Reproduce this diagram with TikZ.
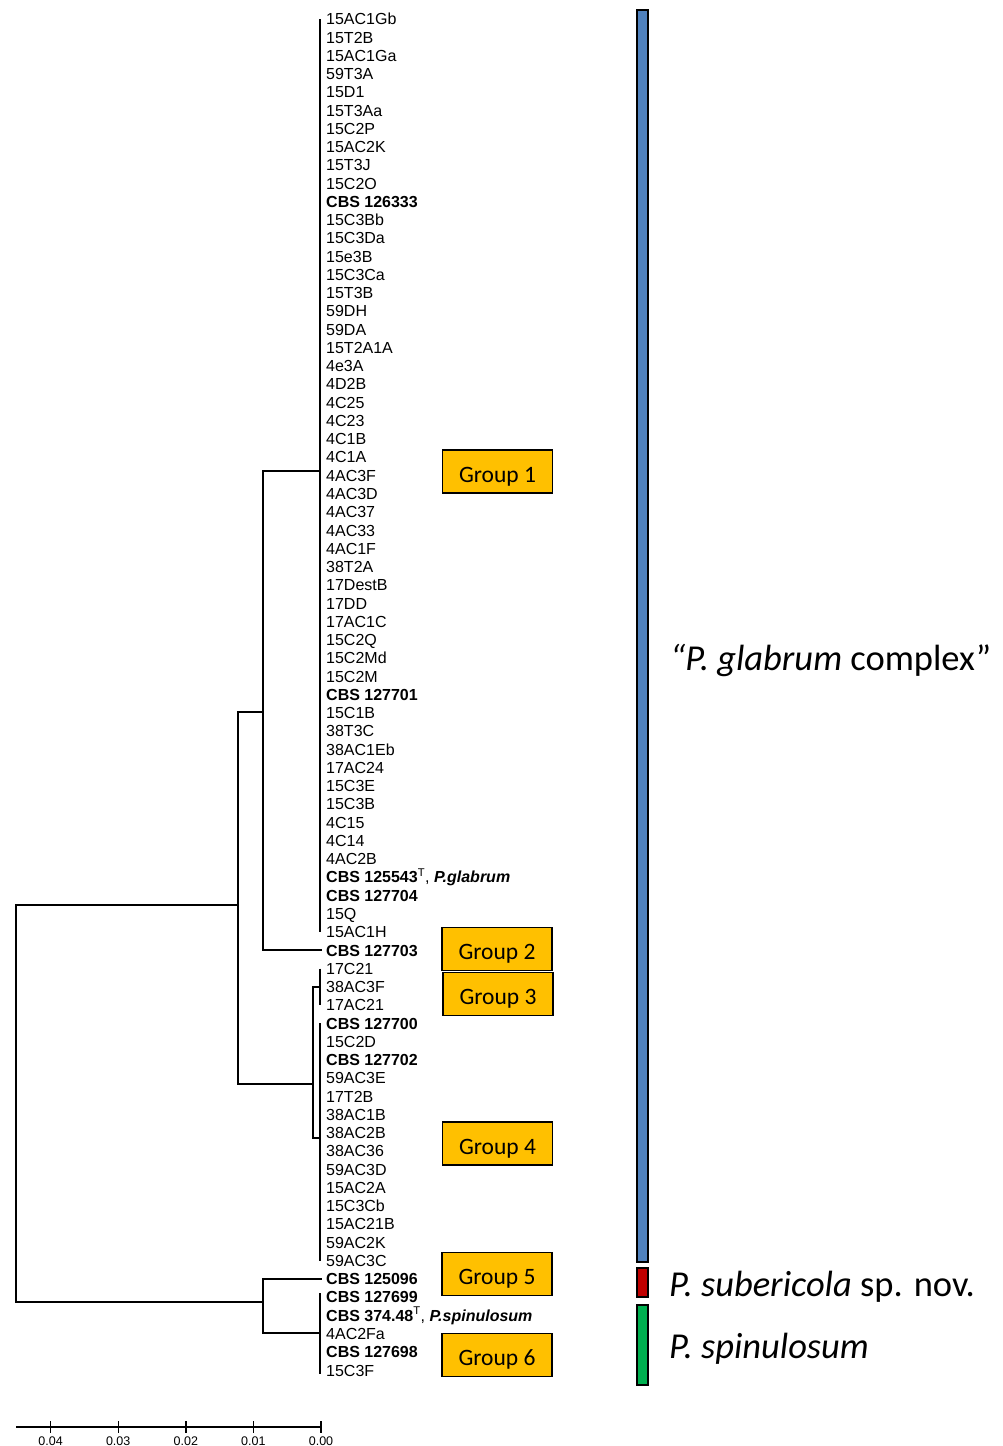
\documentclass[tikz,border=0pt]{standalone}
\usepackage{fontspec}
\setmainfont{Liberation Sans}
\newfontfamily\calfont{Carlito}
\usepackage{tikz}
\usetikzlibrary{calc}
\definecolor{barblue}  {RGB}{79,  129, 189}
\definecolor{barred}   {RGB}{192, 0,   0}
\definecolor{bargreen} {RGB}{0,   176, 80}
\definecolor{grpyellow}{RGB}{255, 192, 0}
\newcommand{\strain}[1]{\textbf{#1}}
\newcommand{\typeT}{\textsuperscript{T}}

\begin{document}
\begin{tikzpicture}[x=1pt,y=-1pt,
	branch/.style={line width=1.6pt},
	tip/.style={anchor=west,inner xsep=4pt,inner ysep=0pt,text height=11.5pt,text depth=0pt,font=\fontsize{16}{18}\selectfont},
	grp/.style={draw,line width=1.6pt,fill=grpyellow,minimum width=110pt,minimum height=43pt,inner sep=0pt,text height=21pt,text depth=0pt,font=\calfont\fontsize{23.5}{27}\selectfont},
	bar/.style={draw,line width=1.8pt},
	clade/.style={anchor=west,inner sep=0pt,text height=23pt,text depth=0pt,font=\calfont\fontsize{36.5}{42}\selectfont}]
	\useasboundingbox (0,0) rectangle (1003,1446);

	% tips
	\foreach \lab [count=\i] in {15AC1Gb, 15T2B, 15AC1Ga, 59T3A, 15D1, 15T3Aa, 15C2P, 15AC2K, 15T3J, 15C2O,
		\strain{CBS 126333}, 15C3Bb, 15C3Da, 15e3B, 15C3Ca, 15T3B, 59DH, 59DA, 15T2A1A, 4e3A,
		4D2B, 4C25, 4C23, 4C1B, 4C1A, 4AC3F, 4AC3D, 4AC37, 4AC33, 4AC1F,
		38T2A, 17DestB, 17DD, 17AC1C, 15C2Q, 15C2Md, 15C2M, \strain{CBS 127701}, 15C1B, 38T3C,
		38AC1Eb, 17AC24, 15C3E, 15C3B, 4C15, 4C14, 4AC2B, {\strain{CBS 125543}\typeT, \strain{\itshape P.glabrum}}, \strain{CBS 127704}, 15Q,
		15AC1H, \strain{CBS 127703}, 17C21, 38AC3F, 17AC21, \strain{CBS 127700}, 15C2D, \strain{CBS 127702}, 59AC3E, 17T2B,
		38AC1B, 38AC2B, 38AC36, 59AC3D, 15AC2A, 15C3Cb, 15AC21B, 59AC2K, 59AC3C, \strain{CBS 125096},
		\strain{CBS 127699}, {\strain{CBS 374.48}\typeT, \strain{\itshape P.spinulosum}}, 4AC2Fa, \strain{CBS 127698}, 15C3F}
		\node[tip] (t\i) at (322,{19+(\i-1)*18.26}) {\lab};

	% inner nodes
	\coordinate (g1) at (320,471);
	\coordinate (g3) at (320,987);
	\coordinate (g4) at (320,1138);
	\coordinate (g6) at (320,1333);
	\coordinate (nB) at (263,712);
	\coordinate (nC) at (313,1084);
	\coordinate (nD) at (238,905);
	\coordinate (nE) at (263,1302);
	\coordinate (root) at (16,1100);

	% branches
	\draw[branch] (g1 |- t1) -- (g1 |- t51);
	\draw[branch] (g3 |- t53) -- (g3 |- t55);
	\draw[branch] (g4 |- t56) -- (g4 |- t69);
	\draw[branch] ($(g6 |- t71)+(0,-4)$) -- ($(g6 |- t75)+(0,4)$);
	\draw[branch] (nB) |- (g1);
	\draw[branch] (nB) |- (t52.west);
	\draw[branch] (nC) |- (g3);
	\draw[branch] (nC) |- (g4);
	\draw[branch] (nD) |- (nB);
	\draw[branch] (nD) |- (nC);
	\draw[branch] (nE) |- (t70.west);
	\draw[branch] (nE) |- (g6);
	\draw[branch] (root) |- (nD);
	\draw[branch] (root) |- (nE);

	% groups
	\node[grp] (grp1) at (497.5,471.5) {Group 1};
	\node[grp] (grp2) at (497,949) {Group 2};
	\node[grp] (grp3) at (498,994) {Group 3};
	\node[grp] (grp4) at (497.5,1143.5) {Group 4};
	\node[grp] (grp5) at (497,1274) {Group 5};
	\node[grp] (grp6) at (497,1355) {Group 6};

	% species bars
	\draw[bar,fill=barblue] (637,10) rectangle (648,1262);
	\draw[bar,fill=barred] (637,1268) rectangle (648,1297);
	\draw[bar,fill=bargreen] (637,1305) rectangle (648,1385);
	\node[clade] (glab) at (670,659) {\textit{“P. glabrum} complex”};
	\node[clade] (suber) at (669,1285) {\textit{P. subericola} sp. nov.};
	\node[clade] (spin) at (669,1347) {\textit{P. spinulosum}};

	% scale
	\coordinate (s0) at (321,1427);
	\coordinate (s4) at (16,1427);
	\draw[line width=1.4pt] (s4) -- (s0);
	\foreach \v [count=\k from 0] in {0.00,0.01,0.02,0.03,0.04} {
		\draw[line width=1.4pt] ({321-67.6*\k},1421) -- ++(0,12);
		\node[font=\fontsize{12.5}{14}\selectfont] (sc\k) at ({321-67.6*\k},1441) {\v};
	}
\end{tikzpicture}
\end{document}
